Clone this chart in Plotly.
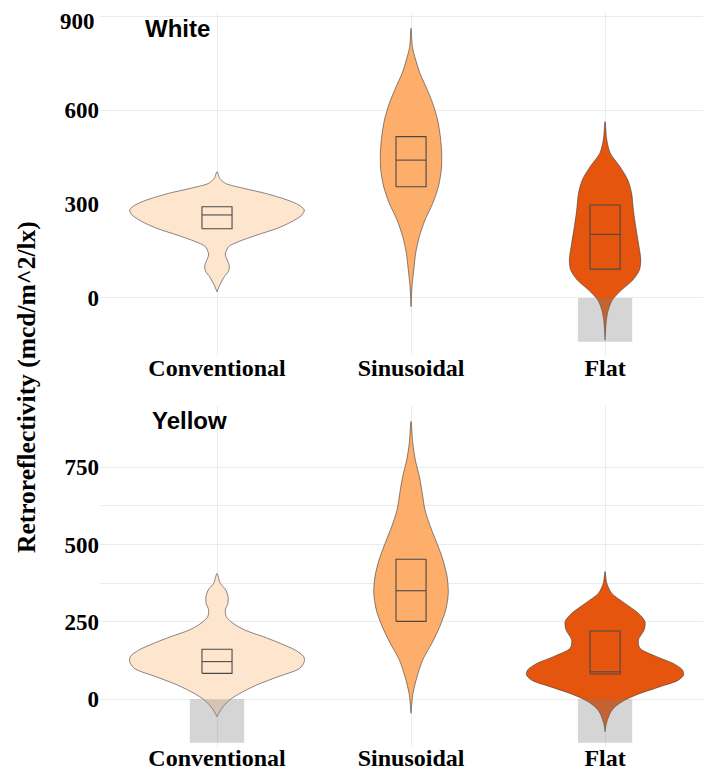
import plotly.graph_objects as go

categories = ["Conventional", "Sinusoidal", "Flat"]
colors = ["#fee6ce", "#fdae6b", "#e6550d"]

# ---- density profiles (value, half-width in category units) ----
white_conv_vals = [403, 382, 366, 350, 334, 313, 297, 281, 265, 244, 222, 201, 180, 164, 145, 137, 118, 100, 84, 68, 41, 20]
white_conv_dens = [0, 0.014, 0.043, 0.137, 0.249, 0.361, 0.421, 0.450, 0.438, 0.387, 0.309, 0.206, 0.112, 0.060, 0.045, 0.043, 0.055, 0.064, 0.058, 0.038, 0.014, 0]

white_sin_vals = [861, 802, 760, 717, 674, 621, 568, 515, 462, 409, 355, 302, 249, 196, 143, 89, 36, -28]
white_sin_dens = [0, 0.007, 0.024, 0.046, 0.077, 0.112, 0.137, 0.151, 0.158, 0.156, 0.141, 0.112, 0.072, 0.043, 0.024, 0.014, 0.005, 0]

white_flat_vals = [563, 504, 462, 419, 377, 334, 281, 228, 175, 121, 89, 57, 26, -6, -38, -70, -134]
white_flat_dens = [0, 0.009, 0.027, 0.077, 0.117, 0.137, 0.146, 0.158, 0.172, 0.184, 0.177, 0.143, 0.086, 0.038, 0.017, 0.007, 0]

yel_conv_vals = [407, 375, 353, 332, 310, 289, 267, 246, 224, 202, 181, 159, 138, 122, 100, 73, 46, 19, -2, -24, -45, -56]
yel_conv_dens = [0, 0.017, 0.046, 0.057, 0.056, 0.043, 0.048, 0.082, 0.143, 0.241, 0.326, 0.404, 0.447, 0.450, 0.426, 0.314, 0.203, 0.117, 0.065, 0.031, 0.009, 0]

yel_sin_vals = [898, 828, 774, 720, 666, 612, 558, 504, 450, 396, 343, 289, 235, 181, 127, 73, 19, -45]
yel_sin_dens = [0, 0.009, 0.022, 0.043, 0.058, 0.072, 0.100, 0.134, 0.165, 0.186, 0.192, 0.179, 0.148, 0.107, 0.060, 0.031, 0.010, 0]

yel_flat_vals = [413, 375, 343, 310, 278, 251, 224, 192, 165, 138, 116, 95, 79, 62, 41, 19, -2, -24, -45, -78, -105]
yel_flat_dens = [0, 0.009, 0.034, 0.103, 0.172, 0.206, 0.201, 0.172, 0.180, 0.266, 0.352, 0.399, 0.405, 0.378, 0.284, 0.180, 0.103, 0.052, 0.026, 0.007, 0]

# ---- box statistics ----
white_q1 = [221, 355, 92]
white_med = [265, 440, 203]
white_q3 = [291, 515, 297]
yel_q1 = [84, 252, 82]
yel_med = [122, 351, 89]
yel_q3 = [162, 453, 221]

# ---- axis ticks ----
white_ticks = [0, 300, 600, 900]
yellow_ticks = [0, 250, 500, 750]

# ---- shaded (below-zero) regions ----
white_shaded = ["Flat"]
yellow_shaded = ["Conventional", "Flat"]
shade_low = -140

panels = [
    dict(name="White", violins=[(white_conv_vals, white_conv_dens), (white_sin_vals, white_sin_dens), (white_flat_vals, white_flat_dens)],
         q1=white_q1, med=white_med, q3=white_q3, shaded=white_shaded),
    dict(name="Yellow", violins=[(yel_conv_vals, yel_conv_dens), (yel_sin_vals, yel_sin_dens), (yel_flat_vals, yel_flat_dens)],
         q1=yel_q1, med=yel_med, q3=yel_q3, shaded=yellow_shaded),
]

# page is 711x770, but the browser body has an 8px margin -> figure is drawn at (8, 8)
OFF = 8
W, H = 711 - OFF, 770 - OFF


def px(x):
    return (x - OFF) / W


def py(y):
    return 1 - (y - OFF) / H


box_half = 0.0775
fig = go.Figure()

for p_i, p in enumerate(panels):
    xa = "x" if p_i == 0 else "x2"
    ya = "y" if p_i == 0 else "y2"
    for c_i, (vals, dens) in enumerate(p["violins"]):
        xs = [c_i + d for d in dens] + [c_i - d for d in reversed(dens)]
        ys = list(vals) + list(reversed(vals))
        fig.add_trace(go.Scatter(x=xs, y=ys, xaxis=xa, yaxis=ya, mode="lines", fill="toself",
                                 fillcolor=colors[c_i], line=dict(color="#3a3a3a", width=0.6, shape="spline", smoothing=0.8),
                                 hoverinfo="skip", showlegend=False))
    # boxes (q1..q3 rectangle plus median line, no whiskers)
    bx, by = [], []
    for c_i in range(len(categories)):
        l, r = c_i - box_half, c_i + box_half
        q1, md, q3 = p["q1"][c_i], p["med"][c_i], p["q3"][c_i]
        bx += [l, r, r, l, l, None, l, r, None]
        by += [q1, q1, q3, q3, q1, None, md, md, None]
    fig.add_trace(go.Scatter(x=bx, y=by, xaxis=xa, yaxis=ya, mode="lines",
                             line=dict(color="#4a4a4a", width=1.1), hoverinfo="skip", showlegend=False))
    for cat in p["shaded"]:
        ci = categories.index(cat)
        fig.add_shape(type="rect", xref=xa, yref=ya, x0=ci - 0.14, x1=ci + 0.14, y0=shade_low, y1=0,
                      fillcolor="rgba(128,128,128,0.33)", line=dict(width=0), layer="above")

x_dom = [px(100), 1]
x_range = [-0.603, 2.546]
ytickfont = dict(family="Liberation Serif", size=23, color="black", weight="bold")
xtickfont = dict(family="Liberation Serif", size=24, color="black", weight="bold")
grid = "#ebebeb"

common_x = dict(domain=x_dom, range=x_range, tickvals=[0, 1, 2], ticktext=categories, tickfont=xtickfont,
                showgrid=True, gridcolor=grid, gridwidth=1, zeroline=False, showline=False, ticks="",
                ticklabeloverflow="allow")

# the top tick label of the upper panel sits at the page edge: label it separately so it stays visible
top_ticktext = [str(v) for v in white_ticks[:-1]] + [""]

fig.update_layout(
    width=W, height=H, margin=dict(l=0, r=0, t=0, b=0, autoexpand=False),
    plot_bgcolor="white", paper_bgcolor="white",
    xaxis=dict(anchor="y", ticklabelstandoff=-4, **common_x),
    xaxis2=dict(anchor="y2", ticklabelstandoff=-6, **common_x),
    yaxis=dict(domain=[py(355), py(13)], range=[-182, 909.6], tickvals=white_ticks, ticktext=top_ticktext,
               tickfont=ytickfont, showgrid=False, zeroline=False, showline=False, ticks="",
               ticklabeloverflow="allow",
               minor=dict(tickvals=[0, 600, 900], showgrid=True, gridcolor=grid, gridwidth=1)),
    yaxis2=dict(domain=[py(747), py(405.7)], range=[-154, 949], tickvals=yellow_ticks,
                tickfont=ytickfont, showgrid=True, gridcolor=grid, gridwidth=1, zeroline=False, showline=False, ticks="",
                ticklabeloverflow="allow",
                minor=dict(tickvals=[375, 625], showgrid=True, gridcolor=grid, gridwidth=1)),
    annotations=[
        dict(text=str(white_ticks[-1]), x=px(97), y=py(21), xref="paper", yref="paper", xanchor="right", yanchor="middle",
             showarrow=False, font=ytickfont),
        dict(text="White", x=px(143), y=py(28), xref="paper", yref="paper", xanchor="left", yanchor="middle",
             showarrow=False, font=dict(family="Liberation Sans", size=24, color="black", weight="bold")),
        dict(text="Yellow", x=px(150), y=py(420), xref="paper", yref="paper", xanchor="left", yanchor="middle",
             showarrow=False, font=dict(family="Liberation Sans", size=24, color="black", weight="bold")),
        dict(text="Retroreflectivity (mcd/m^2/lx)", x=px(27), y=py(387), xref="paper", yref="paper",
             xanchor="center", yanchor="middle", textangle=-90, showarrow=False,
             font=dict(family="Liberation Serif", size=25.5, color="black", weight="bold")),
    ],
)

fig.write_html("out.html")
